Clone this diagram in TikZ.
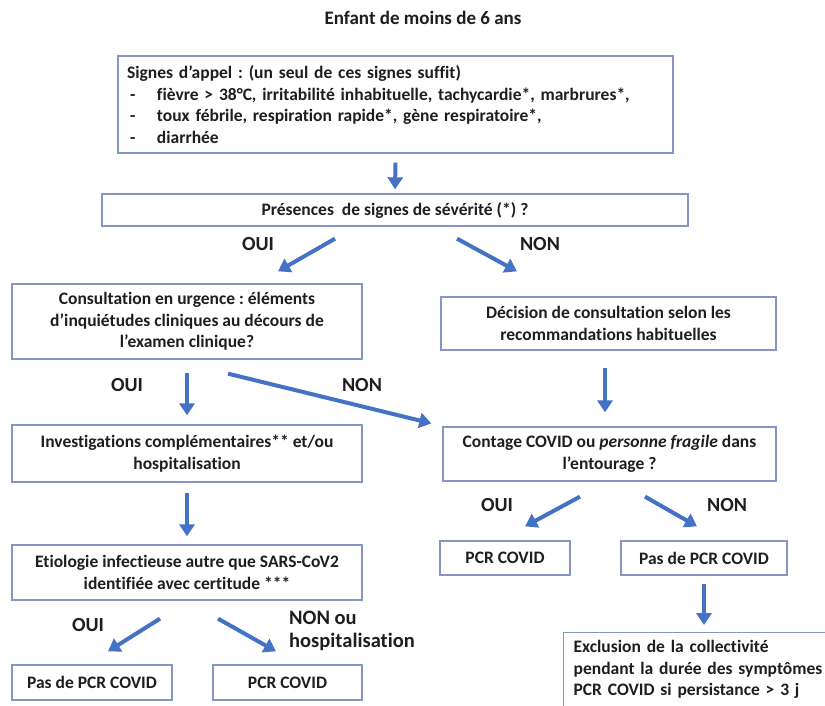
\documentclass[tikz,border=0pt]{standalone}
\usepackage{fontspec}
\setmainfont{Carlito}[Ligatures=CommonOff]
\frenchspacing
\usetikzlibrary{arrows.meta,calc}
\definecolor{frame}{HTML}{8497C4}
\definecolor{flow}{HTML}{4472C4}
\definecolor{ink}{HTML}{1E1E1E}
\begin{document}
\begin{tikzpicture}[x=1pt,y=-1pt,
  box/.style={draw=frame, line width=1.3pt, fill=white, text=ink,
    font=\bfseries\fontsize{17.5}{21.5}\selectfont, align=center, inner sep=0pt},
  lbl/.style={text=ink, font=\bfseries\fontsize{20}{23}\selectfont, inner sep=0pt},
  flowarrow/.style={draw=flow, line width=4pt, -{Triangle[width=15pt,length=12pt]}},
]
\useasboundingbox[fill=white] (0,0) rectangle (825,705);

% title
\node[lbl, font=\bfseries\fontsize{19}{23}\selectfont] (title) at (423,18) {Enfant de moins de 6 ans};

% boxes
\node[box, minimum width=555pt, minimum height=97pt, text width=537pt, align=left] (sig) at (395.5,104.5)
  {Signes d’appel : (un seul de ces signes suffit)\\
   \hspace*{3pt}\makebox[27pt][l]{-}fièvre > 38°C, irritabilité inhabituelle, tachycardie*, marbrures*,\\
   \hspace*{3pt}\makebox[27pt][l]{-}toux fébrile, respiration rapide*, gène respiratoire*,\\
   \hspace*{3pt}\makebox[27pt][l]{-}diarrhée};
\node[box, minimum width=586pt, minimum height=32pt] (pres) at (395,210)
  {Présences~ de signes de sévérité (*) ?};
\node[box, minimum width=350pt, minimum height=75pt] (cons) at (187,321.5)
  {Consultation en urgence : éléments\\d’inquiétudes cliniques au décours de\\l’examen clinique?};
\node[box, minimum width=335pt, minimum height=53pt] (dec) at (608.5,323.5)
  {Décision de consultation selon les\\recommandations habituelles};
\node[box, minimum width=350pt, minimum height=57pt] (inv) at (187,453.5)
  {Investigations complémentaires** et/ou\\hospitalisation};
\node[box, minimum width=333pt, minimum height=54pt] (cont) at (609.5,454)
  {Contage COVID ou \textit{personne fragile} dans\\l’entourage ?};
\node[box, minimum width=130pt, minimum height=34pt] (pcrB) at (505,558) {PCR COVID};
\node[box, minimum width=166pt, minimum height=34pt] (pasB) at (704,558) {Pas de PCR COVID};
\node[box, anchor=north west, minimum width=275pt, minimum height=74pt, text width=255pt,
      inner xsep=10pt, align=left] (excl) at (563,632)
  {Exclusion de la collectivité\\pendant la durée des symptômes\\PCR COVID si persistance > 3 j};
\node[box, minimum width=350pt, minimum height=55pt] (etio) at (187,572.5)
  {Etiologie infectieuse autre que SARS-CoV2\\identifiée avec certitude ***};
\node[box, minimum width=160pt, minimum height=35pt] (pasA) at (92,682.5) {Pas de PCR COVID};
\node[box, minimum width=149pt, minimum height=35pt] (pcrA) at (287.5,682.5) {PCR COVID};

% branch labels
\node[lbl] (l1) at (258,244) {OUI};
\node[lbl] (l2) at (540,244) {NON};
\node[lbl] (l3) at (127,385) {OUI};
\node[lbl] (l4) at (362,385) {NON};
\node[lbl] (l5) at (497,505) {OUI};
\node[lbl] (l6) at (727,505) {NON};
\node[lbl] (l7) at (88,625) {OUI};
\node[lbl, anchor=west, align=left, font=\bfseries\fontsize{20.5}{23}\selectfont] (l8) at (289,631)
  {NON ou\\hospitalisation};

% connectors
\draw[flowarrow] ([yshift=-9pt]sig.south) -- ([yshift=4pt]pres.north);
\draw[flowarrow] ([xshift=-60pt,yshift=-12pt]pres.south) -- ([xshift=91pt,yshift=12pt]cons.north);
\draw[flowarrow] ([xshift=62pt,yshift=-12pt]pres.south) -- ([xshift=-91.5pt,yshift=25pt]dec.north);
\draw[flowarrow] ([yshift=-13pt]cons.south) -- ([yshift=9pt]inv.north);
\draw[flowarrow] ([xshift=41pt,yshift=-14pt]cons.south) -- ([xshift=-11pt,yshift=3pt]cont.north west);
\draw[flowarrow] ([xshift=-3.5pt,yshift=-17pt]dec.south) -- ([xshift=-4.5pt,yshift=14pt]cont.north);
\draw[flowarrow] ([yshift=-10pt]inv.south) -- ([yshift=8pt]etio.north);
\draw[flowarrow] ([xshift=-29.5pt,yshift=-15pt]cont.south) -- ([xshift=20pt,yshift=14pt]pcrB.north);
\draw[flowarrow] ([xshift=35.5pt,yshift=-15pt]cont.south) -- ([xshift=-7pt,yshift=14pt]pasB.north);
\draw[flowarrow] ([yshift=-8pt]pasB.south) -- ([yshift=7pt]pasB.south |- excl.north);
\draw[flowarrow] ([xshift=-27pt,yshift=-18pt]etio.south) -- ([xshift=16pt,yshift=13pt]pasA.north);
\draw[flowarrow] ([xshift=31pt,yshift=-18pt]etio.south) -- ([xshift=-11.5pt,yshift=13pt]pcrA.north);
\end{tikzpicture}
\end{document}
